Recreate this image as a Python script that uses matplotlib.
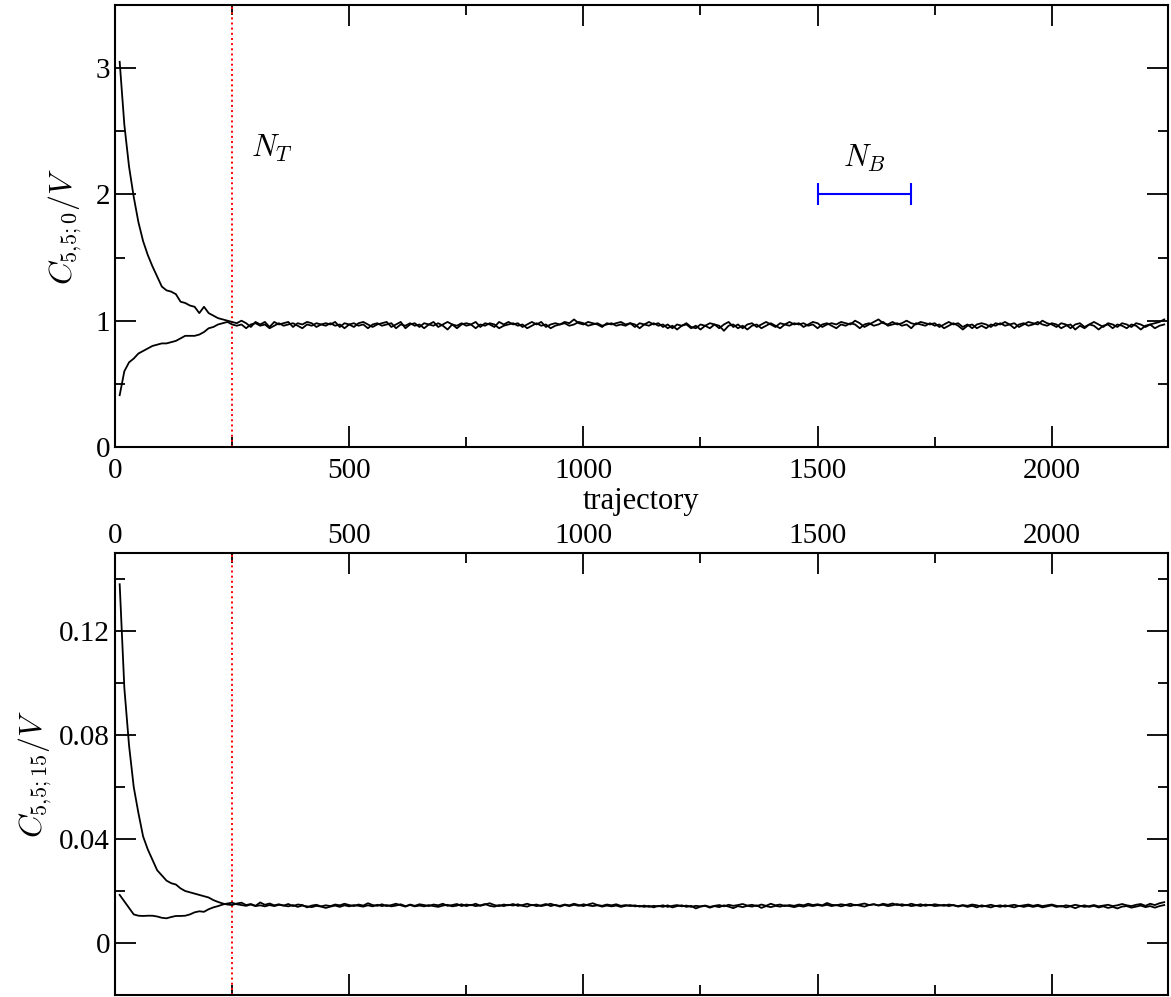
import numpy as np
import matplotlib
matplotlib.use("Agg")
import matplotlib.pyplot as plt
from matplotlib.ticker import MultipleLocator

plt.rcParams['font.family'] = ['Liberation Serif', 'DejaVu Serif']
plt.rcParams['mathtext.fontset'] = 'cm'

# trajectory index of every stored measurement
traj = np.arange(10, 2250, 10)

# C_{5,5;0}/V, start from the ordered (hot) state
c0_hot = [
    3.05, 2.55, 2.22, 1.98, 1.78, 1.63, 1.52, 1.43, 1.35, 1.27,
    1.24, 1.23, 1.21, 1.15, 1.14, 1.12, 1.11, 1.06, 1.11, 1.06,
    1.04, 1.02, 1.01, 1.00, 0.99,
    0.98, 1.00, 0.98, 0.95, 0.99, 0.97, 0.99, 0.95, 0.99, 0.97,
    0.98, 0.99, 0.95, 0.98, 0.97, 0.99, 0.98, 0.95, 0.97, 0.98,
    0.97, 0.99, 0.95, 0.98, 0.97, 0.95, 0.98, 0.99, 0.97, 0.95,
    0.97, 0.98, 0.99, 0.95, 0.97, 0.99, 0.94, 0.97, 0.98, 0.95,
    0.98, 0.97, 0.99, 0.95, 0.97, 0.99, 0.97, 0.94, 0.97, 0.98,
    0.97, 0.99, 0.95, 0.98, 0.97, 0.95, 0.99, 0.97, 0.99, 0.97,
    0.98, 0.95, 0.97, 0.99, 0.97, 0.99, 0.95, 0.97, 0.98, 0.97,
    0.99, 0.98, 1.01, 0.98, 0.97, 0.99, 0.98, 0.97, 0.95, 0.98,
    0.97, 0.98, 0.99, 0.97, 0.98, 0.95, 0.98, 0.97, 0.99, 0.97,
    0.98, 0.95, 0.97, 0.94, 0.97, 0.96, 0.98, 0.95, 0.94, 0.97,
    0.96, 0.98, 0.97, 0.94, 0.97, 0.99, 0.95, 0.97, 0.94, 0.97,
    0.98, 0.95, 0.97, 0.99, 0.97, 0.95, 0.98, 0.97, 0.99, 0.97,
    0.98, 0.95, 0.97, 0.99, 0.98, 0.95, 0.97, 0.98, 0.97, 0.99,
    0.98, 0.97, 1.00, 0.98, 0.95, 0.97, 0.99, 1.01, 0.98, 0.97,
    0.99, 0.97, 0.98, 1.00, 0.98, 0.97, 0.99, 0.98, 0.97, 0.98,
    0.95, 0.97, 0.99, 0.97, 0.98, 0.95, 0.97, 0.94, 0.97, 0.98,
    0.97, 0.95, 0.98, 0.97, 0.99, 0.97, 0.98, 0.95, 0.97, 0.99,
    0.98, 0.97, 1.00, 0.98, 0.97, 0.95, 0.98, 0.97, 0.94, 0.97,
    0.98, 0.95, 0.97, 0.99, 0.97, 0.95, 0.98, 0.97, 0.95, 0.98,
    0.97, 0.95, 0.98, 0.97, 0.95, 0.97, 0.98, 0.99, 1.01,
]

# C_{5,5;0}/V, start from the random (cold) state
c0_cold = [
    0.41, 0.60, 0.67, 0.70, 0.74, 0.76, 0.78, 0.80, 0.81, 0.82,
    0.82, 0.83, 0.84, 0.86, 0.88, 0.88, 0.88, 0.89, 0.91, 0.94,
    0.95, 0.97, 0.98, 0.99, 0.97,
    0.96, 0.97, 0.94, 0.97, 0.98, 0.96, 0.97, 0.94, 0.96, 0.98,
    0.96, 0.97, 0.98, 0.96, 0.94, 0.97, 0.96, 0.98, 0.97, 0.96,
    0.98, 0.96, 0.97, 0.94, 0.97, 0.98, 0.96, 0.97, 0.94, 0.97,
    0.98, 0.96, 0.97, 0.98, 0.94, 0.97, 0.96, 0.98, 0.96, 0.97,
    0.94, 0.97, 0.96, 0.98, 0.96, 0.93, 0.97, 0.96, 0.98, 0.96,
    0.97, 0.94, 0.97, 0.96, 0.98, 0.97, 0.94, 0.96, 0.97, 0.98,
    0.96, 0.97, 0.94, 0.96, 0.98, 0.96, 0.97, 0.94, 0.96, 0.97,
    0.98, 0.96, 0.97, 0.99, 0.98, 0.96, 0.97, 0.98, 0.96, 0.97,
    0.98, 0.96, 0.97, 0.96, 0.98, 0.97, 0.94, 0.97, 0.96, 0.98,
    0.96, 0.97, 0.94, 0.96, 0.93, 0.96, 0.97, 0.94, 0.96, 0.93,
    0.96, 0.94, 0.97, 0.96, 0.92, 0.96, 0.97, 0.94, 0.96, 0.93,
    0.96, 0.97, 0.94, 0.96, 0.98, 0.96, 0.94, 0.97, 0.96, 0.98,
    0.97, 0.98, 0.96, 0.97, 0.94, 0.97, 0.98, 0.96, 0.94, 0.97,
    0.96, 0.98, 0.97, 0.94, 0.97, 0.98, 0.96, 0.97, 0.99, 0.96,
    0.97, 0.98, 0.96, 0.97, 0.94, 0.98, 0.97, 0.96, 0.98, 0.96,
    0.97, 0.94, 0.96, 0.98, 0.96, 0.93, 0.96, 0.97, 0.94, 0.96,
    0.94, 0.97, 0.96, 0.98, 0.96, 0.97, 0.94, 0.97, 0.98, 0.96,
    0.97, 0.99, 0.97, 0.96, 0.98, 0.97, 0.94, 0.96, 0.97, 0.93,
    0.96, 0.94, 0.97, 0.96, 0.93, 0.96, 0.97, 0.94, 0.97, 0.96,
    0.94, 0.97, 0.96, 0.93, 0.96, 0.97, 0.94, 0.96, 0.97,
]

# C_{5,5;15}/V, hot start
c15_hot = [
    0.138, 0.098, 0.076, 0.060, 0.050, 0.041, 0.036, 0.032, 0.028, 0.026,
    0.024, 0.023, 0.0225, 0.021, 0.020, 0.0195, 0.019, 0.0185, 0.018, 0.0175,
    0.0165, 0.0158, 0.0152, 0.0148, 0.0146,
    0.0152, 0.0155, 0.0146, 0.0150, 0.0143, 0.0156, 0.0147, 0.0152, 0.0145, 0.0149,
    0.0144, 0.0150, 0.0142, 0.0148, 0.0146, 0.0137, 0.0144, 0.0147, 0.0141, 0.0145,
    0.0142, 0.0148, 0.0145, 0.0151, 0.0146, 0.0142, 0.0148, 0.0144, 0.0153, 0.0146,
    0.0143, 0.0149, 0.0142, 0.0146, 0.0151, 0.0145, 0.0140, 0.0148, 0.0143, 0.0149,
    0.0146, 0.0142, 0.0148, 0.0145, 0.0151, 0.0143, 0.0146, 0.0150, 0.0142, 0.0148,
    0.0145, 0.0151, 0.0143, 0.0148, 0.0153, 0.0146, 0.0142, 0.0148, 0.0145, 0.0150,
    0.0143, 0.0146, 0.0151, 0.0145, 0.0148, 0.0142, 0.0146, 0.0151, 0.0145, 0.0143,
    0.0148, 0.0145, 0.0151, 0.0146, 0.0142, 0.0148, 0.0153, 0.0146, 0.0143, 0.0148,
    0.0145, 0.0149, 0.0143, 0.0146, 0.0142, 0.0145, 0.0140, 0.0144, 0.0139, 0.0143,
    0.0141, 0.0145, 0.0139, 0.0143, 0.0146, 0.0141, 0.0144, 0.0139, 0.0143, 0.0141,
    0.0144, 0.0139, 0.0143, 0.0146, 0.0141, 0.0147, 0.0143, 0.0146, 0.0150, 0.0144,
    0.0147, 0.0142, 0.0148, 0.0143, 0.0151, 0.0145, 0.0148, 0.0142, 0.0146, 0.0143,
    0.0148, 0.0145, 0.0151, 0.0146, 0.0149, 0.0145, 0.0154, 0.0147, 0.0145, 0.0149,
    0.0146, 0.0151, 0.0145, 0.0148, 0.0152, 0.0146, 0.0149, 0.0145, 0.0151, 0.0147,
    0.0152, 0.0146, 0.0149, 0.0145, 0.0151, 0.0146, 0.0142, 0.0148, 0.0145, 0.0149,
    0.0146, 0.0143, 0.0148, 0.0145, 0.0142, 0.0146, 0.0143, 0.0148, 0.0145, 0.0140,
    0.0143, 0.0147, 0.0142, 0.0145, 0.0140, 0.0144, 0.0147, 0.0142, 0.0145, 0.0148,
    0.0143, 0.0147, 0.0142, 0.0145, 0.0148, 0.0143, 0.0140, 0.0145, 0.0142, 0.0147,
    0.0143, 0.0139, 0.0142, 0.0146, 0.0141, 0.0144, 0.0147, 0.0142, 0.0145, 0.0150,
    0.0145, 0.0142, 0.0147, 0.0150, 0.0143, 0.0151, 0.0146, 0.0153, 0.0157,
]

# C_{5,5;15}/V, cold start
c15_cold = [
    0.0185, 0.0160, 0.0135, 0.0110, 0.0105, 0.0104, 0.0105, 0.0105, 0.0102, 0.0097,
    0.0095, 0.0100, 0.0104, 0.0104, 0.0105, 0.0110, 0.0118, 0.0122, 0.0120, 0.0130,
    0.0137, 0.0142, 0.0148, 0.0152, 0.0155,
    0.0149, 0.0146, 0.0143, 0.0148, 0.0142, 0.0145, 0.0141, 0.0146, 0.0142, 0.0147,
    0.0144, 0.0141, 0.0146, 0.0139, 0.0144, 0.0141, 0.0138, 0.0143, 0.0140, 0.0135,
    0.0140, 0.0144, 0.0139, 0.0145, 0.0141, 0.0146, 0.0143, 0.0140, 0.0145, 0.0141,
    0.0147, 0.0142, 0.0146, 0.0141, 0.0144, 0.0149, 0.0142, 0.0146, 0.0141, 0.0144,
    0.0141, 0.0146, 0.0142, 0.0139, 0.0144, 0.0147, 0.0141, 0.0144, 0.0149, 0.0142,
    0.0147, 0.0142, 0.0145, 0.0150, 0.0143, 0.0140, 0.0146, 0.0142, 0.0147, 0.0144,
    0.0149, 0.0143, 0.0140, 0.0147, 0.0142, 0.0145, 0.0150, 0.0142, 0.0147, 0.0140,
    0.0146, 0.0142, 0.0147, 0.0143, 0.0149, 0.0145, 0.0142, 0.0145, 0.0140, 0.0144,
    0.0141, 0.0144, 0.0139, 0.0143, 0.0146, 0.0141, 0.0143, 0.0139, 0.0143, 0.0137,
    0.0143, 0.0139, 0.0145, 0.0137, 0.0142, 0.0145, 0.0139, 0.0143, 0.0133, 0.0140,
    0.0143, 0.0136, 0.0142, 0.0138, 0.0145, 0.0140, 0.0134, 0.0142, 0.0138, 0.0143,
    0.0140, 0.0145, 0.0135, 0.0142, 0.0138, 0.0143, 0.0140, 0.0145, 0.0142, 0.0138,
    0.0143, 0.0140, 0.0145, 0.0142, 0.0146, 0.0143, 0.0147, 0.0142, 0.0146, 0.0141,
    0.0146, 0.0142, 0.0147, 0.0144, 0.0140, 0.0146, 0.0149, 0.0144, 0.0147, 0.0142,
    0.0145, 0.0150, 0.0143, 0.0147, 0.0142, 0.0145, 0.0149, 0.0143, 0.0147, 0.0142,
    0.0144, 0.0147, 0.0142, 0.0146, 0.0140, 0.0144, 0.0139, 0.0143, 0.0137, 0.0145,
    0.0141, 0.0137, 0.0143, 0.0139, 0.0145, 0.0141, 0.0137, 0.0143, 0.0139, 0.0143,
    0.0139, 0.0143, 0.0137, 0.0141, 0.0145, 0.0139, 0.0143, 0.0137, 0.0141, 0.0134,
    0.0141, 0.0145, 0.0139, 0.0143, 0.0137, 0.0141, 0.0135, 0.0139, 0.0133, 0.0140,
    0.0142, 0.0136, 0.0140, 0.0144, 0.0138, 0.0142, 0.0136, 0.0142, 0.0146,
]

n_therm = 250          # thermalisation cut
n_bin = [1500, 1700]   # bin length marker
n_bin_y = 2.0

fig = plt.figure(figsize=(11.71, 9.97), dpi=100)
ax1 = fig.add_axes([0.0982, 0.5517, 0.8992, 0.4433])
ax2 = fig.add_axes([0.0982, 0.002, 0.8992, 0.4433])

for ax in (ax1, ax2):
    ax.set_xlim(0, 2248)
    ax.xaxis.set_major_locator(MultipleLocator(500))
    ax.xaxis.set_minor_locator(MultipleLocator(250))
    ax.tick_params(which='both', direction='in', top=True, right=True,
                   labelsize=21, width=1.3)
    ax.tick_params(which='major', length=15)
    ax.tick_params(which='minor', length=7.5)
    for s in ax.spines.values():
        s.set_linewidth(1.5)
    ax.axvline(n_therm, color='red', ls=':', lw=1.4)

# top panel
ax1.plot(traj, c0_hot, color='black', lw=1.3)
ax1.plot(traj, c0_cold, color='black', lw=1.3)
ax1.set_ylim(0, 3.5)
ax1.yaxis.set_major_locator(MultipleLocator(1))
ax1.yaxis.set_minor_locator(MultipleLocator(0.5))
ax1.tick_params(axis='x', pad=8)
ax1.set_xlabel('trajectory', fontsize=22, labelpad=2)
ax1.set_ylabel(r'$C_{5{,}5{;}0}/V$', fontsize=23, labelpad=8)
ax1.errorbar([(n_bin[0] + n_bin[1]) / 2], [n_bin_y],
             xerr=[(n_bin[1] - n_bin[0]) / 2], color='blue', lw=1.5,
             capsize=8, capthick=1.5)
ax1.text(290, 2.3, r'$N_T$', fontsize=22)
ax1.text(1600, 2.22, r'$N_B$', fontsize=22, ha='center')

# bottom panel
ax2.plot(traj, c15_hot, color='black', lw=1.3)
ax2.plot(traj, c15_cold, color='black', lw=1.3)
ax2.set_ylim(-0.02, 0.15)
ax2.yaxis.set_minor_locator(MultipleLocator(0.02))
ax2.set_yticks([0, 0.04, 0.08, 0.12])
ax2.set_yticklabels(['0', '0.04', '0.08', '0.12'])
ax2.tick_params(axis='x', labelbottom=False, labeltop=True, pad=3)
ax2.set_ylabel(r'$C_{5{,}5{;}15}/V$', fontsize=23, labelpad=4)

fig.savefig('out.png', dpi=100)
